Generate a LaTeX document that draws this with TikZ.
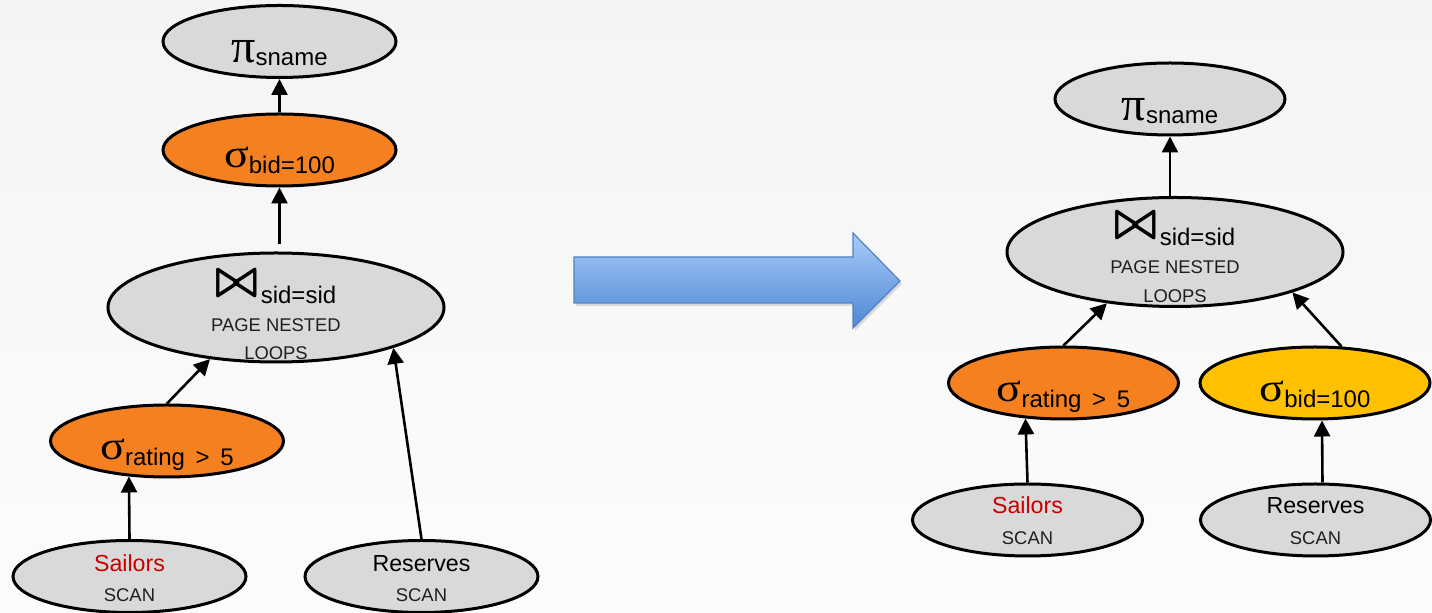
\documentclass[tikz,border=0pt]{standalone}
\usepackage{fontspec}
\usepackage{graphicx}
\setmainfont{Liberation Sans}
\newfontfamily\grk{Liberation Serif}
\usetikzlibrary{shapes.geometric,arrows.meta,calc}

\definecolor{opgray}{RGB}{217,217,217}
\definecolor{oporange}{RGB}{245,128,31}
\definecolor{opyellow}{RGB}{255,192,0}
\definecolor{relred}{RGB}{200,0,0}
\definecolor{bgtop}{RGB}{244,244,244}
\definecolor{bgbot}{RGB}{252,252,252}
\definecolor{arrtop}{RGB}{168,203,250}
\definecolor{arrbot}{RGB}{78,136,212}
\definecolor{arredge}{RGB}{84,130,196}
\definecolor{smalltxt}{RGB}{30,30,30}

% operator labels
\newcommand\opsig[1]{{\grk\fontsize{20}{20}\selectfont\scalebox{1.15}[1]{σ}}\raisebox{-3pt}{\fontsize{12}{12}\selectfont #1}}
\newcommand\oppi[1]{{\grk\fontsize{24}{24}\selectfont π}\raisebox{-1.5pt}{\fontsize{12}{12}\selectfont #1}}
% join symbol, stroked a little heavier by overprinting
\newcommand\bowglyph{\resizebox*{20.5pt}{13pt}{$\bowtie$}}
\newcommand\heavybow{\rlap{\bowglyph}\rlap{\hspace{0.5pt}\bowglyph}\rlap{\raisebox{0.5pt}{\bowglyph}}\hspace{0.5pt}\raisebox{0.5pt}{\bowglyph}}
\newcommand\opjoin[1]{\raisebox{3pt}{\heavybow}\hspace{1.5pt}{\fontsize{12}{12}\selectfont #1}}
\newcommand\planfoot{\fontsize{9.2}{9.2}\selectfont}
\newcommand\relname{\fontsize{11.6}{11.6}\selectfont}

\begin{document}
\begin{tikzpicture}[x=0.5pt,y=-0.5pt,
  op/.style={ellipse, draw=black, line width=1.5pt, inner sep=0pt,
             minimum width=116.5pt, minimum height=36pt},
  opr/.style={op, minimum width=115pt},
  grayop/.style={fill=opgray},
  orangeop/.style={fill=oporange},
  yellowop/.style={fill=opyellow},
  joinop/.style={op, fill=opgray, minimum width=168pt, minimum height=54.5pt},
  lbl/.style={anchor=base, inner sep=0pt, text=black},
  sublbl/.style={anchor=base, inner sep=0pt, text=smalltxt, font=\planfoot},
  edge/.style={line width=1.3pt, -{Triangle[length=8pt,width=8pt]}},
]
% background
\useasboundingbox (0,0) rectangle (1432,613);
\shade[top color=bgtop, bottom color=bgbot] (0,0) rectangle (1432,613);

% ---------- left plan ----------
\node[op, grayop]   (lpi)   at (279.5,41.5) {};
\node[op, orangeop] (lsb)   at (279.5,150)  {};
\node[joinop]       (ljoin) at (276,307.5)  {};
\node[op, orangeop] (lsr)   at (167,441)    {};
\node[op, grayop]   (lsail) at (129.5,576.5) {};
\node[op, grayop]   (lres)  at (421.5,576.5) {};

\node[lbl] (lpi-t)  at ($(lpi)+(0,21)$)  {\oppi{sname}};
\node[lbl] (lsb-t)  at ($(lsb)+(0,18)$)  {\opsig{bid=100}};
\node[lbl] (ljoin-t) at ($(ljoin)+(0,-4)$) {\opjoin{sid=sid}};
\node[sublbl] (ljoin-a) at ($(ljoin)+(0,24)$) {PAGE NESTED};
\node[sublbl] (ljoin-b) at ($(ljoin)+(0,52)$) {LOOPS};
\node[lbl] (lsr-t)  at ($(lsr)+(0,19)$)  {\opsig{rating \,>\, 5}};
\node[lbl, text=relred, font=\relname] (lsail-t) at ($(lsail)+(0,-4.5)$) {Sailors};
\node[sublbl] (lsail-s) at ($(lsail)+(0,25.5)$) {SCAN};
\node[lbl, font=\relname] (lres-t) at ($(lres)+(0,-4.5)$) {Reserves};
\node[sublbl] (lres-s) at ($(lres)+(0,25.5)$) {SCAN};

\draw[edge] (lsb) -- (lpi);
\draw[edge, shorten <=3.5pt] (ljoin.north -| lsb.south) -- (lsb.south);
\draw[edge] (lsr.north) -- (ljoin.-142);
\draw[edge] (lres.north) -- (ljoin.-19);
\draw[edge] (lsail.north) -- (lsr.-137);

% ---------- rewrite arrow ----------
\fill[black, opacity=0.12]
  (576,260) -- (855,260) -- (855,236) -- (902,284) -- (855,331) -- (855,306) -- (576,306) -- cycle;
\shade[top color=arrtop, bottom color=arrbot, draw=arredge, line width=0.6pt]
  (574,257) -- (853,257) -- (853,233) -- (900,281) -- (853,328) -- (853,303) -- (574,303) -- cycle;

% ---------- right plan ----------
\node[opr, grayop]   (rpi)   at (1170,99)    {};
\node[joinop]        (rjoin) at (1175,252)   {};
\node[opr, orangeop] (rsr)   at (1063.5,383) {};
\node[opr, yellowop] (rsb)   at (1315,383)   {};
\node[opr, grayop]   (rsail) at (1027.5,520) {};
\node[opr, grayop]   (rres)  at (1315.5,520) {};

\node[lbl] (rpi-t)  at ($(rpi)+(0,22)$)  {\oppi{sname}};
\node[lbl] (rjoin-t) at ($(rjoin)+(0,-6)$) {\opjoin{sid=sid}};
\node[sublbl] (rjoin-a) at ($(rjoin)+(0,21.5)$) {PAGE NESTED};
\node[sublbl] (rjoin-b) at ($(rjoin)+(0,51)$) {LOOPS};
\node[lbl] (rsr-t)  at ($(rsr)+(0,19)$)  {\opsig{rating \,>\, 5}};
\node[lbl] (rsb-t)  at ($(rsb)+(0,19)$)  {\opsig{bid=100}};
\node[lbl, text=relred, font=\relname] (rsail-t) at ($(rsail)+(0,-6)$) {Sailors};
\node[sublbl] (rsail-s) at ($(rsail)+(0,25)$) {SCAN};
\node[lbl, font=\relname] (rres-t) at ($(rres)+(0,-6)$) {Reserves};
\node[sublbl] (rres-s) at ($(rres)+(0,25)$) {SCAN};

\draw[edge] (rjoin.north -| rpi.south) -- (rpi.south);
\draw[edge] (rsr.north) -- (rjoin.-143);
\draw[edge] (rsb.54) -- (rjoin.-19);
\draw[edge] (rsail.north) -- (rsr.-137);
\draw[edge] ([xshift=3.5pt]rres.north) -- ([xshift=3.5pt]rsb.south);
\end{tikzpicture}
\end{document}
